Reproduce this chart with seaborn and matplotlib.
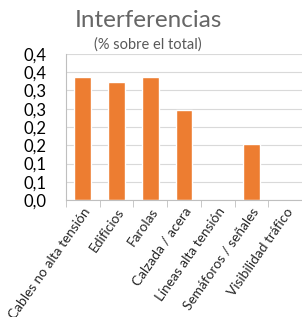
import matplotlib
matplotlib.use("Agg")
import matplotlib.pyplot as plt
import seaborn as sns
import pandas as pd
import numpy as np
from decimal import Decimal, ROUND_HALF_UP
from matplotlib.ticker import FuncFormatter, MultipleLocator

categorias = ["Cables no alta tensión", "Edificios", "Farolas", "Calzada / acera",
              "Líneas alta tensión", "Semáforos / señales", "Visibilidad tráfico"]
valores = [0.337, 0.322, 0.337, 0.246, 0.0, 0.153, 0.0]

df = pd.DataFrame({"categoria": categorias, "valor": valores})

sns.set_style("white")
plt.rcParams["font.family"] = ["Lato", "DejaVu Sans"]

fig = plt.figure(figsize=(3.02, 3.17), dpi=100)
ax = fig.add_axes([66 / 302, 1 - 200 / 317, 236 / 302, 146 / 317])

sns.barplot(data=df, x="categoria", y="valor", color="#ED7D31", width=0.5,
            saturation=1, ax=ax)

ax.set_ylim(0, 0.4)
ax.set_xlim(-0.5, len(categorias) - 0.5)
ax.yaxis.set_major_locator(MultipleLocator(0.05))


def fmt(v, pos):
    # redondeo tipo Excel (0,35 -> 0,4)
    d = Decimal(str(round(v, 4))).quantize(Decimal("0.1"), rounding=ROUND_HALF_UP)
    return str(d).replace(".", ",")


ax.yaxis.set_major_formatter(FuncFormatter(fmt))
ax.grid(axis="y", color="#D9D9D9", linewidth=0.8)
ax.set_axisbelow(True)

for s in ["top", "right"]:
    ax.spines[s].set_visible(False)
ax.spines["left"].set_color("#BFBFBF")
ax.spines["bottom"].set_color("#BFBFBF")

ax.tick_params(axis="y", length=5, color="#D9D9D9", labelsize=12, labelcolor="#000000", pad=9)
ax.set_xticks(np.arange(len(categorias) + 1) - 0.5, minor=True)
ax.tick_params(axis="x", which="major", length=0, labelsize=9.8, labelcolor="#262626", pad=4)
ax.tick_params(axis="x", which="minor", length=5, color="#BFBFBF", bottom=True)
ax.set_xticklabels(categorias, rotation=55, ha="right", rotation_mode="anchor")

ax.set_xlabel("")
ax.set_ylabel("")

fig.text(148 / 302, 1 - 27 / 317, "Interferencias", ha="center", va="baseline",
         fontsize=17.5, color="#666666")
fig.text(148 / 302, 1 - 49 / 317, "(% sobre el total)", ha="center", va="baseline",
         fontsize=10.5, color="#595959")

fig.savefig("out.png", dpi=100)
